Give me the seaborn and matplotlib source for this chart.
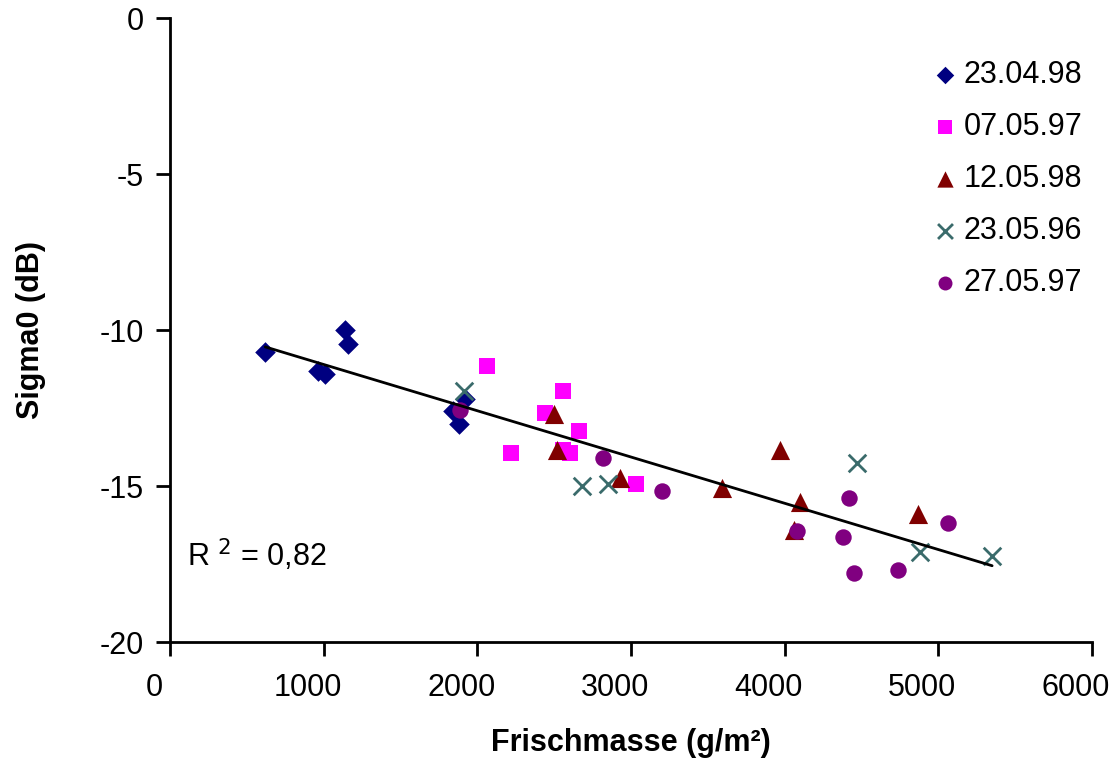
import numpy as np
import pandas as pd
import matplotlib
matplotlib.use("Agg")
import matplotlib.pyplot as plt
import matplotlib.transforms as mtransforms
import seaborn as sns

# ---- data ----
labels = ["23.04.98", "07.05.97", "12.05.98", "23.05.96", "27.05.97"]

x_230498 = [620, 960, 1010, 1140, 1160, 1840, 1880, 1920]
y_230498 = [-10.7, -11.3, -11.4, -10.0, -10.45, -12.6, -13.0, -12.2]

x_070597 = [2060, 2220, 2440, 2560, 2560, 2600, 2660, 3030]
y_070597 = [-11.15, -13.95, -12.65, -11.95, -13.85, -13.95, -13.25, -14.95]

x_120598 = [2500, 2520, 2930, 3590, 3970, 4060, 4100, 4870]
y_120598 = [-12.7, -13.85, -14.75, -15.05, -13.85, -16.4, -15.5, -15.9]

x_230596 = [1910, 2680, 2850, 4470, 4880, 5350]
y_230596 = [-11.95, -15.0, -14.95, -14.25, -17.1, -17.25]

x_270597 = [1890, 2820, 3200, 4080, 4380, 4420, 4450, 4740, 5060]
y_270597 = [-12.55, -14.1, -15.15, -16.45, -16.65, -15.4, -17.8, -17.7, -16.2]

r2_text = "0,82"
x_ticks = [0, 1000, 2000, 3000, 4000, 5000, 6000]
y_ticks = [0, -5, -10, -15, -20]

xs = [x_230498, x_070597, x_120598, x_230596, x_270597]
ys = [y_230498, y_070597, y_120598, y_230596, y_270597]

df = pd.concat([pd.DataFrame({"x": a, "y": b, "serie": l}) for a, b, l in zip(xs, ys, labels)],
               ignore_index=True)

# ---- style ----
sns.set_theme(style="white")
plt.rcParams["font.family"] = ["Liberation Sans", "DejaVu Sans"]
plt.rcParams["axes.unicode_minus"] = False
for k in ["text.color", "axes.labelcolor", "xtick.color", "ytick.color"]:
    plt.rcParams[k] = "black"

colors = ["#000080", "#FF00FF", "#800000", "#3A6B6B", "#800080"]
markers = ["D", "s", "^", "x", "o"]
sizes = [110, 130, 190, 160, 140]

FS = 22
fig = plt.figure(figsize=(11.13, 7.58), dpi=100)
ax = fig.add_axes([170 / 1113, 1 - 642 / 758, (1092 - 170) / 1113, (642 - 18) / 758])

for lab, col, mk, sz in zip(labels, colors, markers, sizes):
    sub = df[df["serie"] == lab]
    kw = dict(linewidth=2) if mk == "x" else dict(linewidth=0)
    sns.scatterplot(data=sub, x="x", y="y", ax=ax, color=col, marker=mk, s=sz,
                    label=lab, zorder=3, **kw)

# linear trend line over all points
coef = np.polyfit(df["x"], df["y"], 1)
xl = np.array([df["x"].min(), df["x"].max()])
ax.plot(xl, np.polyval(coef, xl), color="black", linewidth=2, zorder=4)

ax.set_xlim(0, 6000)
ax.set_ylim(-20, 0)
ax.set_xticks(x_ticks)
ax.set_yticks(y_ticks)
ax.tick_params(axis="both", labelsize=FS, length=10, width=2, direction="out",
               bottom=True, left=True, color="black")
ax.tick_params(axis="x", pad=12)
ax.tick_params(axis="y", pad=9)
# Excel-like shift of the x tick labels to the left of their ticks
offset = mtransforms.ScaledTranslation(-16 / 100, 0, fig.dpi_scale_trans)
for lbl in ax.get_xticklabels():
    lbl.set_transform(lbl.get_transform() + offset)

for s in ["top", "right"]:
    ax.spines[s].set_visible(False)
for s in ["left", "bottom"]:
    ax.spines[s].set_color("black")
    ax.spines[s].set_linewidth(2)

ax.set_xlabel("Frischmasse (g/m²)", fontsize=FS, fontweight="bold", labelpad=18)
ax.set_ylabel("Sigma0 (dB)", fontsize=FS, fontweight="bold", labelpad=38)

ax.text(0.018, 0.139, "R $^{2}$ = " + r2_text, transform=ax.transAxes, fontsize=FS,
        ha="left", va="center")

leg = ax.legend(loc="upper left", bbox_to_anchor=(936 / 1113, 1 - 60 / 758),
                bbox_transform=fig.transFigure, frameon=False, fontsize=FS,
                handlelength=0.6, handletextpad=0.3, labelspacing=0.72,
                borderaxespad=0, borderpad=0, markerscale=0.85)

fig.savefig("out.png", dpi=100)
